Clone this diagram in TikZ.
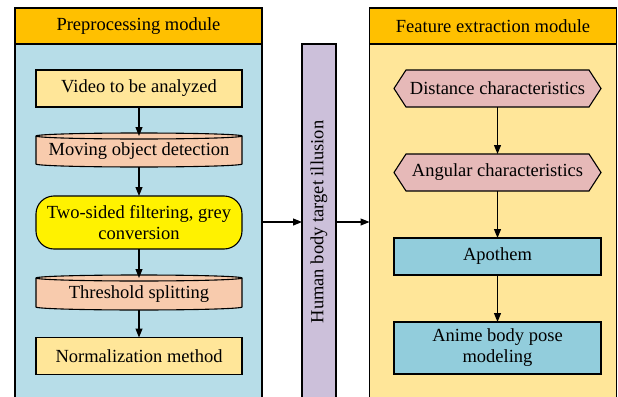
\documentclass[tikz,border=0pt]{standalone}
\usepackage{fontspec}
\setmainfont{Liberation Serif}
\usetikzlibrary{arrows.meta,calc}
\definecolor{hdr}{HTML}{FFC000}
\definecolor{lbg}{HTML}{B7DDE8}
\definecolor{ybg}{HTML}{FFE699}
\definecolor{peach}{HTML}{F8CBAD}
\definecolor{pinkc}{HTML}{E6B9B8}
\definecolor{tealc}{HTML}{92CDDC}
\definecolor{lilac}{HTML}{CCC0DA}
\begin{document}
\begin{tikzpicture}[x=1pt,y=-1pt,
 font=\fontsize{18.5}{21}\selectfont,
 every node/.style={inner sep=0pt, outer sep=0pt},
 panel/.style={draw, line width=1.3pt, minimum width=247pt, minimum height=428pt},
 hdrbox/.style={draw, line width=1.3pt, fill=hdr, minimum width=247pt, minimum height=36pt},
 box/.style={draw, line width=1.1pt, minimum width=206pt, minimum height=37pt, align=center},
 ghost/.style={minimum width=206pt, minimum height=28pt},
 shp/.style={draw, line width=1.1pt},
 arr/.style={line width=1.1pt, -{Triangle[length=9pt,width=7pt]}}
]
\useasboundingbox (0,0) rectangle (618,396);
\clip (0,0) rectangle (618,396);
% panels
\node[panel, fill=lbg] (lp) at (138.5,222) {};
\node[hdrbox] (lh) at (138.5,26) {Preprocessing module};
\node[panel, fill=ybg] (rp) at (493,222) {};
\node[hdrbox] (rh) at (493,26) {Feature extraction module};
% middle box
\node[draw, line width=1.3pt, fill=lilac, minimum width=34pt, minimum height=356pt] (hb) at (319,222) {};
\node[rotate=90] (hbt) at (319,222) {Human body target illusion};
% left column
\node[box, fill=ybg] (v) at (139,88.5) {Video to be analyzed};
\node[ghost] (m) at (139,150) {};
\path[shp, fill=peach] (m.north west) -- (m.south west)
  arc[start angle=180, end angle=360, x radius=103pt, y radius=3pt]
  -- (m.north east) arc[start angle=0, end angle=180, x radius=103pt, y radius=3pt] -- cycle;
\draw[line width=1.1pt] (m.north west) arc[start angle=180, end angle=360, x radius=103pt, y radius=3pt];
\node at ($(m.center)+(0,1.5)$) {Moving object detection};
\node[box, fill=yellow, minimum height=53pt, rounded corners=18pt] (t) at (139,222.5) {Two-sided filtering, grey\\conversion};
\node[ghost, minimum height=29pt] (th) at (139,292.5) {};
\path[shp, fill=peach] (th.north west) -- (th.south west)
  arc[start angle=180, end angle=360, x radius=103pt, y radius=3pt]
  -- (th.north east) arc[start angle=0, end angle=180, x radius=103pt, y radius=3pt] -- cycle;
\draw[line width=1.1pt] (th.north west) arc[start angle=180, end angle=360, x radius=103pt, y radius=3pt];
\node at ($(th.center)+(0,1.5)$) {Threshold splitting};
\node[box, fill=ybg] (n) at (139,356) {Normalization method};
% right column
\node[minimum width=207pt, minimum height=37pt] (d) at (497.5,88.5) {};
\path[shp, fill=pinkc] (d.west) -- ($(d.north west)+(12,0)$) -- ($(d.north east)+(-12,0)$) -- (d.east) -- ($(d.south east)+(-12,0)$) -- ($(d.south west)+(12,0)$) -- cycle;
\node at (d.center) {Distance characteristics};
\node[minimum width=207pt, minimum height=37pt] (a) at (497.5,172.5) {};
\path[shp, fill=pinkc] (a.west) -- ($(a.north west)+(12,0)$) -- ($(a.north east)+(-12,0)$) -- (a.east) -- ($(a.south east)+(-12,0)$) -- ($(a.south west)+(12,0)$) -- cycle;
\node at (a.center) {Angular characteristics};
\node[box, fill=tealc, minimum width=207pt] (ap) at (497.5,256.5) {Apothem};
\node[box, fill=tealc, minimum width=207pt, minimum height=52pt] (an) at (497.5,348) {Anime body pose\\modeling};
% arrows
\draw[arr] (v.south) -- (m.north);
\draw[arr] ($(m.south)+(0,3)$) -- (t.north);
\draw[arr] (t.south) -- (th.north);
\draw[arr] ($(th.south)+(0,3)$) -- (n.north);
\draw[arr] (d.south) -- (a.north);
\draw[arr] (a.south) -- (ap.north);
\draw[arr] (ap.south) -- (an.north);
\draw[arr] (lp.east) -- (hb.west);
\draw[arr] (hb.east) -- (rp.west);
\end{tikzpicture}
\end{document}
